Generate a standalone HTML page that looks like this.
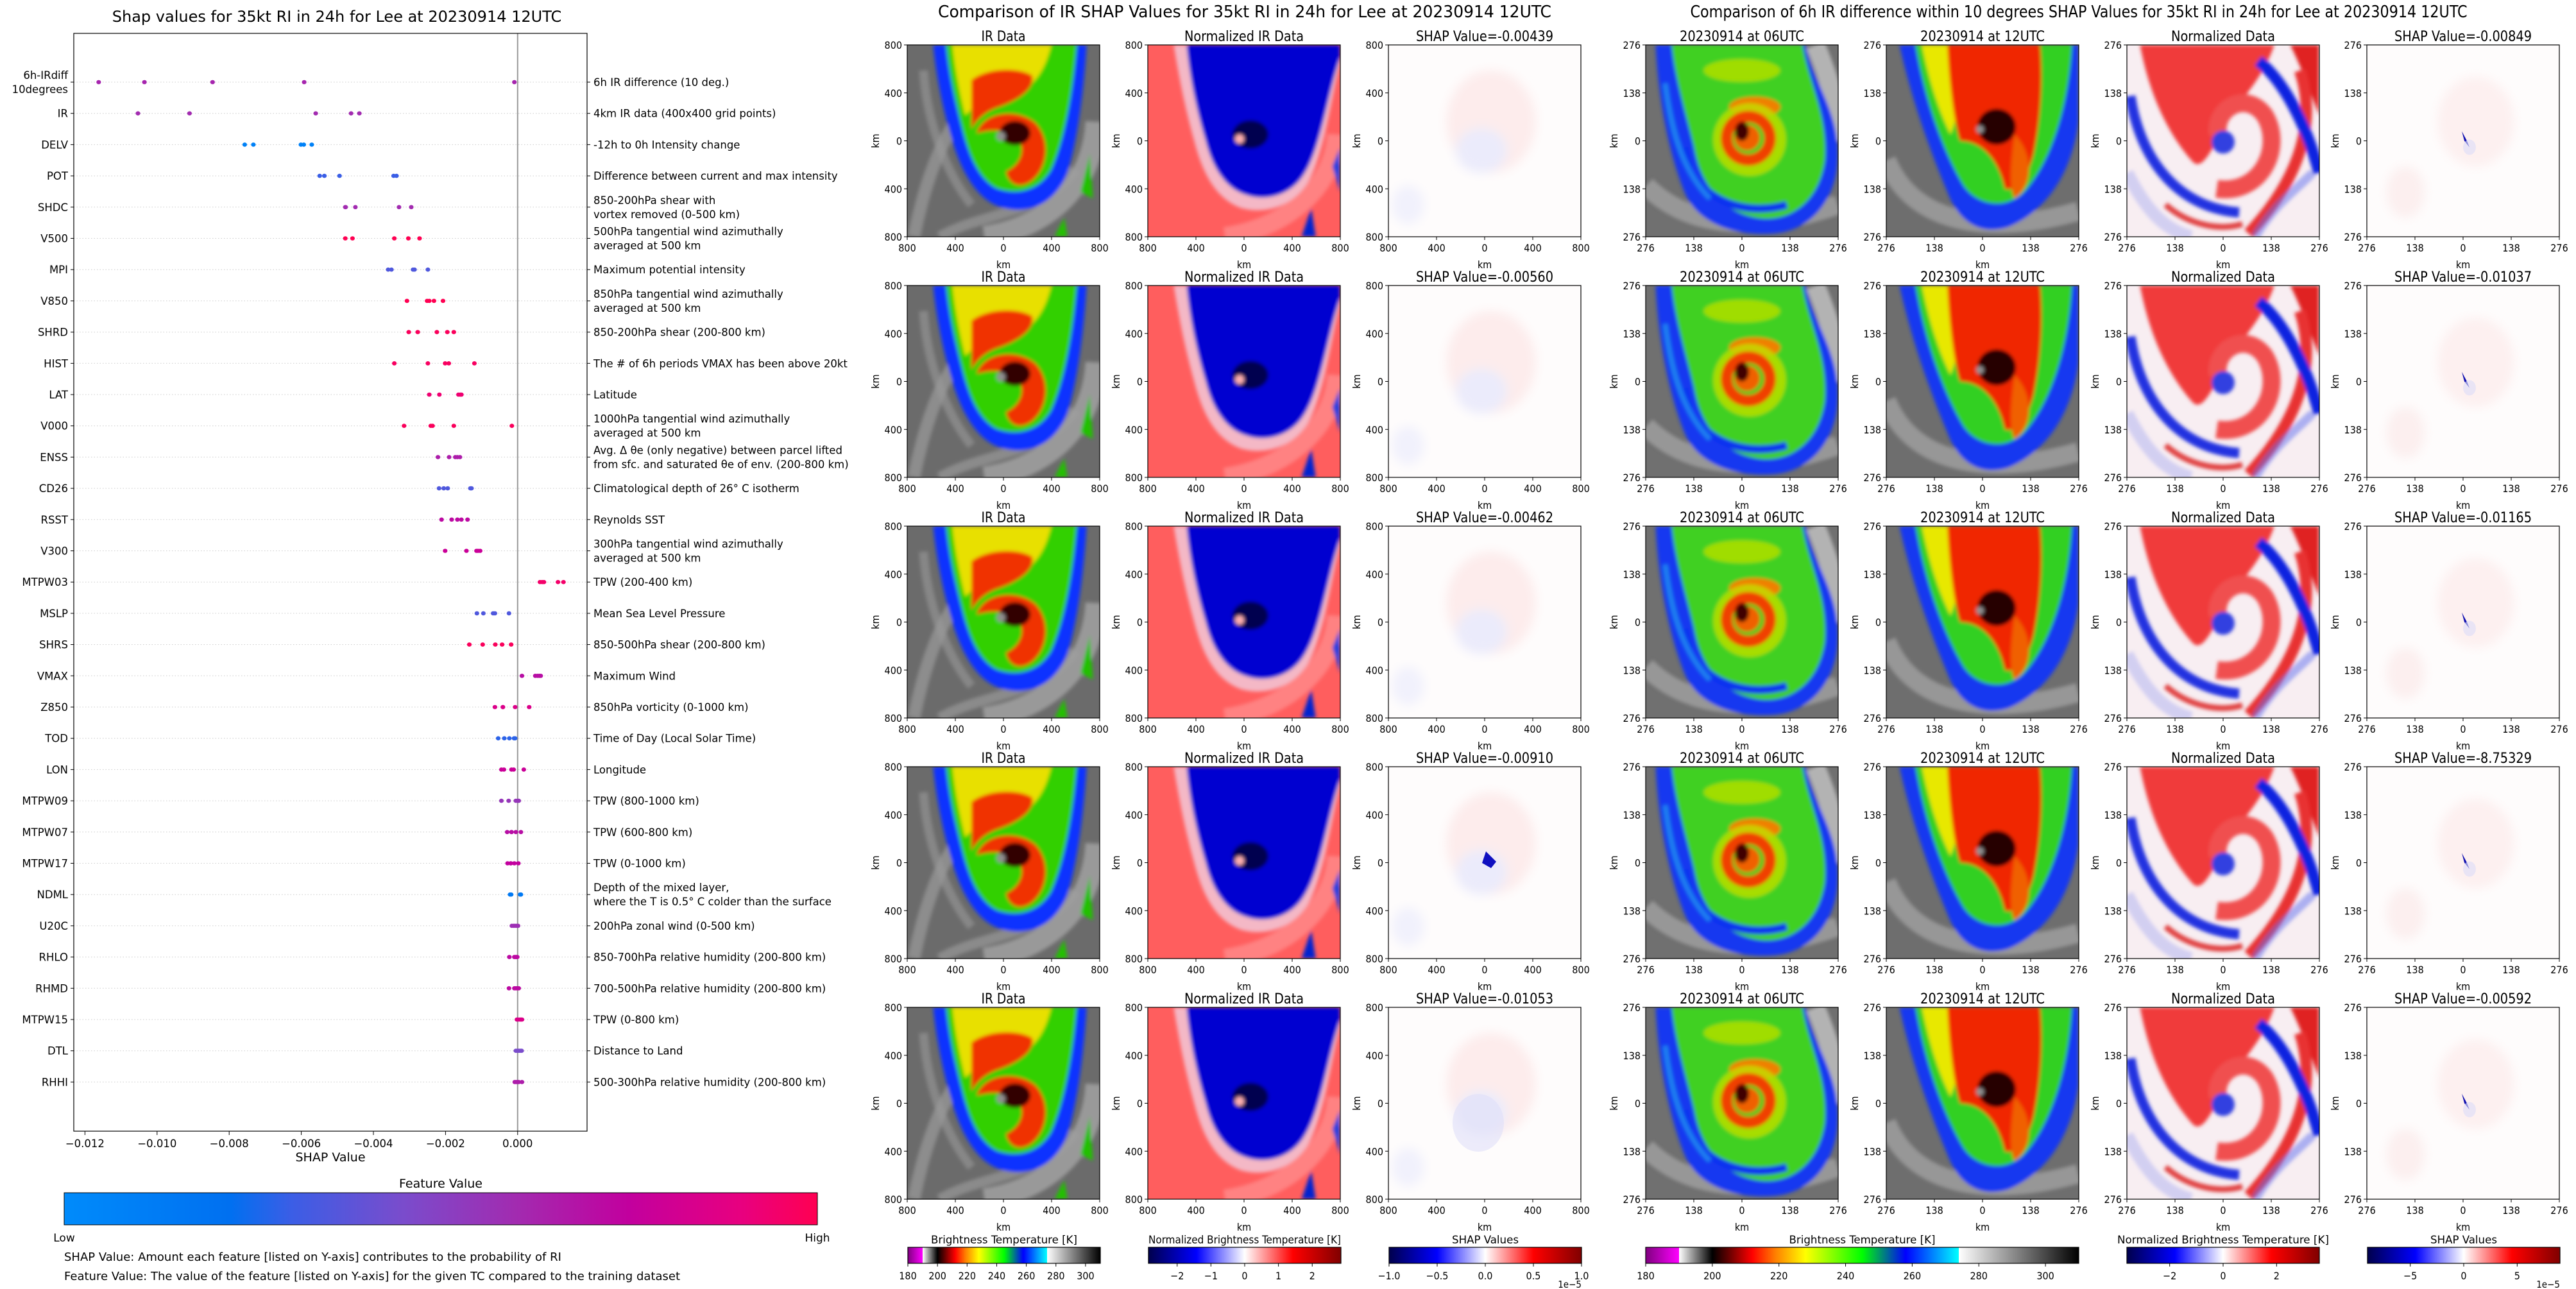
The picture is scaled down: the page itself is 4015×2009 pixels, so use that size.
<!DOCTYPE html>
<html><head><meta charset="utf-8"><title>SHAP RI Lee 20230914 12UTC</title>
<style>
html,body{margin:0;padding:0;background:#fff;}
svg{display:block;}
.dj{font-family:"DejaVu Sans","Liberation Sans",sans-serif;}
.nw{font-family:"Liberation Sans Narrow","DejaVu Sans Condensed","Liberation Sans",sans-serif;}
</style></head>
<body>
<svg id="root" xmlns="http://www.w3.org/2000/svg" width="4015" height="2009" viewBox="0 0 4015 2009">
<defs>
  <filter id="soft" x="-5%" y="-5%" width="110%" height="110%"><feGaussianBlur stdDeviation="3"/></filter>
  <filter id="soft2" x="-10%" y="-10%" width="120%" height="120%"><feGaussianBlur stdDeviation="8"/></filter>
  <linearGradient id="featCmap" x1="0" x2="1" y1="0" y2="0">
    <stop offset="0" stop-color="#008bfb"/><stop offset="0.22" stop-color="#0070f0"/>
    <stop offset="0.3" stop-color="#3a5ee6"/><stop offset="0.45" stop-color="#7a4ccc"/>
    <stop offset="0.6" stop-color="#a22bb0"/><stop offset="0.75" stop-color="#c2009e"/>
    <stop offset="0.9" stop-color="#e8007f"/><stop offset="1" stop-color="#ff0052"/>
  </linearGradient>
  <linearGradient id="btCmap" x1="0" x2="1" y1="0" y2="0">
    <stop offset="0" stop-color="#800080"/><stop offset="0.0769" stop-color="#ff00ff"/>
    <stop offset="0.0769" stop-color="#ffffff"/><stop offset="0.1538" stop-color="#000000"/>
    <stop offset="0.19" stop-color="#600000"/><stop offset="0.246" stop-color="#ff0000"/>
    <stop offset="0.3" stop-color="#ff8000"/><stop offset="0.369" stop-color="#ffff00"/>
    <stop offset="0.5" stop-color="#00ff00"/><stop offset="0.6" stop-color="#0000ff"/>
    <stop offset="0.723" stop-color="#00ffff"/><stop offset="0.723" stop-color="#ffffff"/>
    <stop offset="1" stop-color="#000000"/>
  </linearGradient>
  <linearGradient id="seisCmap" x1="0" x2="1" y1="0" y2="0">
    <stop offset="0" stop-color="#00004c"/><stop offset="0.25" stop-color="#0000ff"/>
    <stop offset="0.5" stop-color="#ffffff"/><stop offset="0.75" stop-color="#ff0000"/>
    <stop offset="1" stop-color="#800000"/>
  </linearGradient>

  <symbol id="irLeft" viewBox="0 0 300 300">
    <rect width="300" height="300" fill="#6b6b6b"/>
    <g filter="url(#soft)">
      <path d="M10,300 C30,200 60,130 100,90" stroke="#a8a8a8" stroke-width="20" fill="none" opacity=".55"/>
      <path d="M120,300 C220,285 290,220 295,120" stroke="#c0c0c0" stroke-width="34" fill="none" opacity=".55"/>
      <path d="M50,300 C120,260 200,270 262,195" stroke="#a0a0a0" stroke-width="16" fill="none" opacity=".6"/>
      <path d="M25,40 C30,120 60,200 100,250" stroke="#9a9a9a" stroke-width="14" fill="none" opacity=".6"/>
      <path d="M40,0 L280,0 C275,80 265,150 250,200 C230,250 190,265 150,255 C110,245 85,200 70,150 C55,100 45,50 40,0Z" fill="#1030ff"/>
      <path d="M60,0 L265,0 C258,80 245,150 225,195 C205,230 170,235 140,225 C110,210 95,170 85,130 C72,80 64,40 60,0Z" fill="#30d000"/>
      <path d="M70,0 L225,0 C215,40 200,60 180,70 C150,80 110,90 90,110 C80,70 73,30 70,0Z" fill="#e8e000"/>
      <path d="M100,55 C125,35 175,35 195,48 C200,70 170,88 140,98 C118,106 104,122 100,132 Z" fill="#f03000"/>
      <path d="M108,138 C118,104 172,98 200,122 C226,150 218,196 192,214 C175,225 158,218 154,198 C176,188 184,166 175,150 C161,131 132,131 108,138Z" fill="#f03000"/>
      <ellipse cx="168" cy="138" rx="24" ry="19" fill="#300000"/>
      <circle cx="146" cy="143" r="7" fill="#909090"/>
      <path d="M270,230 L285,170 L290,240 Z" fill="#20c000"/>
      <path d="M230,300 L245,270 L250,300 Z" fill="#20c000"/>
    </g>
  </symbol>
  <symbol id="normLeft" viewBox="0 0 300 300">
    <rect width="300" height="300" fill="#ff5e5e"/>
    <g filter="url(#soft)">
      <path d="M120,300 C220,285 290,220 295,140" stroke="#ff9a9a" stroke-width="30" fill="none" opacity=".6"/>
      <path d="M40,0 L300,0 L300,30 C285,90 275,170 250,215 C225,255 180,265 145,255 C105,240 85,200 72,150 C58,100 48,50 40,0Z" fill="#f2c8d8" opacity=".85"/>
      <path d="M60,0 L300,0 L300,20 C280,80 270,160 245,200 C225,235 185,245 155,235 C120,225 100,190 90,150 C75,100 65,50 60,0Z" fill="#0000d0"/>
      <ellipse cx="160" cy="140" rx="28" ry="22" fill="#000050"/>
      <circle cx="143" cy="147" r="7" fill="#ffb0b0"/>
      <path d="M240,300 L255,255 L262,300 Z" fill="#0020d0"/>
      <path d="M288,190 L300,160 L300,230 Z" fill="#2040e0"/>
    </g>
  </symbol>
  <symbol id="shapLeft" viewBox="0 0 300 300">
    <rect width="300" height="300" fill="#fefcfc"/>
    <g filter="url(#soft2)">
      <ellipse cx="160" cy="120" rx="70" ry="80" fill="#fdecec"/>
      <ellipse cx="145" cy="165" rx="40" ry="35" fill="#ebebfb"/>
      <ellipse cx="30" cy="250" rx="25" ry="30" fill="#f1f1fc"/>
    </g>
  </symbol>
  <symbol id="ir06" viewBox="0 0 300 300">
    <rect width="300" height="300" fill="#707070"/>
    <g filter="url(#soft)">
      <path d="M0,220 C60,280 160,300 300,250" stroke="#b8b8b8" stroke-width="30" fill="none" opacity=".55"/>
      <path d="M265,0 C290,60 300,100 300,150" stroke="#d0d0d0" stroke-width="30" fill="none" opacity=".7"/>
      <path d="M15,0 L250,0 C262,60 300,100 300,170 C300,240 260,290 200,295 C140,300 80,280 60,230 C40,180 20,100 15,0Z" fill="#1838f0"/>
      <path d="M40,0 L245,0 C255,60 285,110 280,180 C270,250 220,280 170,270 C120,260 85,220 75,160 C60,100 45,50 40,0Z" fill="#40d020"/>
      <path d="M60,160 C70,240 150,270 220,250" stroke="#1030f0" stroke-width="12" fill="none"/>
      <path d="M30,60 C40,140 60,200 100,240" stroke="#20a0f0" stroke-width="8" fill="none" opacity=".7"/>
      <ellipse cx="150" cy="40" rx="60" ry="18" fill="#b8e000" opacity=".8"/>
      <ellipse cx="170" cy="97" rx="40" ry="16" fill="#f08000"/>
      <circle cx="162" cy="148" r="44" fill="none" stroke="#c0e000" stroke-width="26" opacity=".8"/>
      <circle cx="160" cy="146" r="34" fill="none" stroke="#f04000" stroke-width="18"/>
      <circle cx="158" cy="145" r="20" fill="#f06000"/>
      <ellipse cx="150" cy="135" rx="11" ry="15" fill="#400000"/>
    </g>
  </symbol>
  <symbol id="ir12" viewBox="0 0 300 300">
    <rect width="300" height="300" fill="#6e6e6e"/>
    <g filter="url(#soft)">
      <path d="M0,180 C40,280 160,300 300,260" stroke="#b8b8b8" stroke-width="30" fill="none" opacity=".55"/>
      <path d="M20,0 L300,0 L300,120 C290,200 250,260 190,285 C140,300 110,270 95,230 C70,170 40,90 20,0Z" fill="#1838f0"/>
      <path d="M45,0 L290,0 C285,90 260,180 215,230 C185,260 140,250 120,220 C90,170 60,90 45,0Z" fill="#30d020"/>
      <path d="M55,0 L140,0 C130,60 110,110 100,140 C80,100 65,50 55,0Z" fill="#e8e800"/>
      <path d="M95,0 L240,0 C245,60 240,120 230,170 C220,210 200,230 185,225 C175,180 150,150 115,150 C105,120 98,60 95,0Z" fill="#f02800"/>
      <path d="M200,140 C230,170 230,220 200,240 C190,220 195,180 200,140Z" fill="#f06000"/>
      <ellipse cx="172" cy="128" rx="30" ry="28" fill="#280000"/>
      <circle cx="146" cy="132" r="6" fill="#909090"/>
    </g>
  </symbol>
  <symbol id="normRight" viewBox="0 0 300 300">
    <rect width="300" height="300" fill="#f8eef2"/>
    <g filter="url(#soft)">
      <path d="M20,0 L230,0 C210,60 170,90 150,130 C130,170 115,200 100,180 C65,140 35,80 20,0Z" fill="#f03a3a"/>
      <path d="M255,0 L300,0 L300,110 C285,70 270,30 255,0Z" fill="#e02020"/>
      <path d="M140,225 C210,235 245,160 215,110 C185,70 135,100 142,140" stroke="#f05050" stroke-width="28" fill="none"/>
      <path d="M270,40 C300,130 260,220 190,295" stroke="#e83030" stroke-width="18" fill="none"/>
      <path d="M5,80 C20,180 80,255 175,262" stroke="#2030e0" stroke-width="16" fill="none"/>
      <path d="M205,25 C250,60 285,140 300,200" stroke="#1020e0" stroke-width="18" fill="none"/>
      <circle cx="150" cy="152" r="18" fill="#3040e0"/>
      <path d="M60,250 C100,285 150,290 180,280" stroke="#e04040" stroke-width="9" fill="none"/>
      <path d="M200,300 C230,250 260,230 290,200" stroke="#6070f0" stroke-width="14" fill="none" opacity=".5"/>
      <path d="M0,200 C30,260 60,290 100,300" stroke="#9aa0f0" stroke-width="20" fill="none" opacity=".4"/>
    </g>
  </symbol>
  <symbol id="shapRight" viewBox="0 0 300 300">
    <rect width="300" height="300" fill="#fefcfc"/>
    <g filter="url(#soft2)">
      <ellipse cx="170" cy="120" rx="60" ry="70" fill="#fdf0f0"/>
      <ellipse cx="60" cy="230" rx="30" ry="40" fill="#fcefef"/>
    </g>
    <path d="M148,135 L156,150 L160,160 L152,150Z" fill="#1010b0"/>
    <ellipse cx="160" cy="160" rx="10" ry="12" fill="#dcdcf8" opacity=".6"/>
  </symbol>
</defs>
<g id="left"></g>
<g id="right"></g>
</svg>
<script>
// ---------- Left chart data ----------
const features = ["6h-IRdiff\n10degrees","IR","DELV","POT","SHDC","V500","MPI","V850","SHRD","HIST","LAT","V000","ENSS","CD26","RSST","V300","MTPW03","MSLP","SHRS","VMAX","Z850","TOD","LON","MTPW09","MTPW07","MTPW17","NDML","U20C","RHLO","RHMD","MTPW15","DTL","RHHI"];
const descriptions = ["6h IR difference (10 deg.)","4km IR data (400x400 grid points)","-12h to 0h Intensity change","Difference between current and max intensity","850-200hPa shear with\nvortex removed (0-500 km)","500hPa tangential wind azimuthally\naveraged at 500 km","Maximum potential intensity","850hPa tangential wind azimuthally\naveraged at 500 km","850-200hPa shear (200-800 km)","The # of 6h periods VMAX has been above 20kt","Latitude","1000hPa tangential wind azimuthally\naveraged at 500 km","Avg. Δ θe (only negative) between parcel lifted\nfrom sfc. and saturated θe of env. (200-800 km)","Climatological depth of 26° C isotherm","Reynolds SST","300hPa tangential wind azimuthally\naveraged at 500 km","TPW (200-400 km)","Mean Sea Level Pressure","850-500hPa shear (200-800 km)","Maximum Wind","850hPa vorticity (0-1000 km)","Time of Day (Local Solar Time)","Longitude","TPW (800-1000 km)","TPW (600-800 km)","TPW (0-1000 km)","Depth of the mixed layer,\nwhere the T is 0.5° C colder than the surface","200hPa zonal wind (0-500 km)","850-700hPa relative humidity (200-800 km)","700-500hPa relative humidity (200-800 km)","TPW (0-800 km)","Distance to Land","500-300hPa relative humidity (200-800 km)"];
const shapValues = [
 [-0.01162,-0.01035,-0.00846,-0.00592,-0.00009],
 [-0.01053,-0.00910,-0.00560,-0.00462,-0.00439],
 [-0.00757,-0.00733,-0.00601,-0.00593,-0.00571],
 [-0.00549,-0.00536,-0.00494,-0.00344,-0.00336],
 [-0.00478,-0.00477,-0.00450,-0.00329,-0.00295],
 [-0.00478,-0.00458,-0.00342,-0.00303,-0.00272],
 [-0.00359,-0.00350,-0.00290,-0.00286,-0.00249],
 [-0.00307,-0.00251,-0.00245,-0.00232,-0.00207],
 [-0.00302,-0.00277,-0.00224,-0.00195,-0.00177],
 [-0.00342,-0.00249,-0.00201,-0.00191,-0.00120],
 [-0.00245,-0.00217,-0.00164,-0.00159,-0.00156],
 [-0.00315,-0.00241,-0.00236,-0.00177,-0.00016],
 [-0.00221,-0.00190,-0.00173,-0.00167,-0.00160],
 [-0.00218,-0.00205,-0.00194,-0.00131,-0.00128],
 [-0.00211,-0.00183,-0.00167,-0.00156,-0.00139],
 [-0.00201,-0.00142,-0.00114,-0.00110,-0.00104],
 [0.00062,0.00068,0.00073,0.00112,0.00127],
 [-0.00113,-0.00095,-0.00068,-0.00063,-0.00024],
 [-0.00134,-0.00097,-0.00062,-0.00043,-0.00018],
 [0.00012,0.00049,0.00055,0.00060,0.00064],
 [-0.00063,-0.00041,-0.00007,0.00032,-0.00041],
 [-0.00054,-0.00037,-0.00023,-0.00010,-0.00007],
 [-0.00045,-0.00038,-0.00017,-0.00011,0.00017],
 [-0.00045,-0.00025,-0.00005,0.00000,0.00003],
 [-0.00029,-0.00017,-0.00005,0.00009,-0.00017],
 [-0.00028,-0.00019,-0.00009,0.00002,-0.00019],
 [-0.00021,-0.00018,0.00007,0.00009,0.00008],
 [-0.00016,-0.00011,-0.00007,-0.00002,0.00001],
 [-0.00023,-0.00009,-0.00006,-0.00001,-0.00003],
 [-0.00024,-0.00009,-0.00005,-0.00001,0.00003],
 [-0.00002,0.00001,0.00006,0.00009,0.00012],
 [-0.00005,-0.00001,0.00003,0.00007,0.00011],
 [-0.00008,-0.00004,0.00000,0.00003,0.00012]
];
const featureValues = [0.62,0.6,0.08,0.3,0.6,1.0,0.35,1.0,0.98,0.97,0.93,0.98,0.65,0.35,0.72,0.78,0.95,0.35,0.98,0.7,0.85,0.28,0.78,0.55,0.7,0.75,0.15,0.58,0.72,0.72,0.85,0.45,0.65];
const xTicks = [-0.012,-0.010,-0.008,-0.006,-0.004,-0.002,0.000];

// ---------- Right panels data ----------
const leftShapTitles = ["SHAP Value=-0.00439","SHAP Value=-0.00560","SHAP Value=-0.00462","SHAP Value=-0.00910","SHAP Value=-0.01053"];
const rightShapTitles = ["SHAP Value=-0.00849","SHAP Value=-0.01037","SHAP Value=-0.01165","SHAP Value=-8.75329","SHAP Value=-0.00592"];
const leftTicks = ["800","400","0","400","800"];
const rightTicks = ["276","138","0","138","276"];
const btTicks = [180,200,220,240,260,280,300];
const normLeftTicks = [-2,-1,0,1,2];
const shapLeftTicks = [-1.0,-0.5,0.0,0.5,1.0];
const normRightTicks = [-2,0,2];
const shapRightTicks = [-5,0,5];

const NS = "http://www.w3.org/2000/svg";
function el(tag, attrs, parent){
  const e = document.createElementNS(NS, tag);
  for (const k in attrs) e.setAttribute(k, attrs[k]);
  parent.appendChild(e);
  return e;
}
function txt(s, attrs, parent){
  const t = el("text", attrs, parent);
  t.textContent = s;
  return t;
}
const minus = v => String(v).replace("-", "\u2212");

// ---------- Left chart ----------
const L = document.getElementById("left");
const PX0 = 115, PX1 = 915, PY0 = 52, PY1 = 1763;
const ROW0 = 128, ROWH = 48.7;
const xScale = v => 806.8 + v * 56200;
const yScale = i => ROW0 + i * ROWH;
const cmapStops = [[0,[0,139,251]],[0.22,[0,112,240]],[0.3,[58,94,230]],[0.45,[122,76,204]],[0.6,[162,43,176]],[0.75,[194,0,158]],[0.9,[232,0,127]],[1,[255,0,82]]];
function cmap(t){
  for (let i=1;i<cmapStops.length;i++){
    if (t <= cmapStops[i][0]){
      const a = cmapStops[i-1], b = cmapStops[i];
      const f = (t-a[0])/(b[0]-a[0]);
      const c = a[1].map((v,j)=>Math.round(v+(b[1][j]-v)*f));
      return "rgb("+c.join(",")+")";
    }
  }
  return "rgb(255,0,82)";
}

let t = txt("Shap values for 35kt RI in 24h for Lee at 20230914 12UTC", {x:525,y:34,"text-anchor":"middle","font-size":"24",class:"dj",fill:"#000"}, L);



features.forEach((f,i)=>{
  const y = yScale(i);
  const g = el("line",{x1:PX0,x2:PX1,y1:y,y2:y,stroke:"#cccccc","stroke-width":"1","stroke-dasharray":"1.5,3"},L);
  
  
  const tk = el("line",{x1:PX0-5,x2:PX0,y1:y,y2:y,stroke:"#000","stroke-width":"1"},L);
  
  
  const tk2 = el("line",{x1:PX1,x2:PX1+5,y1:y,y2:y,stroke:"#000","stroke-width":"1"},L);
  
  
  const lines = f.split("\n");
  lines.forEach((s,k)=>{
    const yy = lines.length===1 ? y+6 : y - 5 + k*22;
    const lt = txt(s,{x:106,y:yy,"text-anchor":"end","font-size":"16.5",class:"dj",fill:"#000"},L);
    
    
  });
  const dl = descriptions[i].split("\n");
  dl.forEach((s,k)=>{
    const yy = dl.length===1 ? y+6 : y - 5 + k*22;
    const dt = txt(s,{x:925,y:yy,"font-size":"16.5",class:"dj",fill:"#000"},L);
    
    
  });
});
const zl = el("line",{x1:xScale(0),x2:xScale(0),y1:PY0,y2:PY1,stroke:"#999999","stroke-width":"2"},L);


shapValues.forEach((vals,i)=>{
  vals.forEach(v=>{
    const d = el("ellipse",{cx:xScale(v).toFixed(1),cy:yScale(i).toFixed(1),rx:"3.6",ry:"3.3",fill:cmap(featureValues[i])},L);
    
    
  });
});
const frame = el("rect",{x:PX0,y:PY0,width:PX1-PX0,height:PY1-PY0,fill:"none",stroke:"#000","stroke-width":"1.2"},L);


xTicks.forEach(v=>{
  const x = xScale(v);
  const tm = el("line",{x1:x,x2:x,y1:PY1,y2:PY1+6,stroke:"#000","stroke-width":"1"},L);
  
  
  const tl = txt(minus(v.toFixed(3)),{x:x,y:PY1+25,"text-anchor":"middle","font-size":"16.5",class:"dj",fill:"#000"},L);
  
  
});
t = txt("SHAP Value",{x:515,y:1810,"text-anchor":"middle","font-size":"19",class:"dj",fill:"#000"},L);


t = txt("Feature Value",{x:687,y:1851,"text-anchor":"middle","font-size":"19",class:"dj",fill:"#000"},L);


t = el("rect",{x:100,y:1859,width:1174,height:50,fill:"url(#featCmap)",stroke:"#000","stroke-width":"1"},L);


t = txt("Low",{x:100,y:1935,"text-anchor":"middle","font-size":"17",class:"dj",fill:"#000"},L);


t = txt("High",{x:1274,y:1935,"text-anchor":"middle","font-size":"17",class:"dj",fill:"#000"},L);


t = txt("SHAP Value: Amount each feature [listed on Y-axis] contributes to the probability of RI",{x:100,y:1965,"font-size":"18",class:"dj",fill:"#000"},L);


t = txt("Feature Value: The value of the feature [listed on Y-axis] for the given TC compared to the training dataset",{x:100,y:1995,"font-size":"18",class:"dj",fill:"#000"},L);



// ---------- Right image panels ----------
const R = document.getElementById("right");
const rowTops = [70,445,820,1195,1570];
const PH = 299, PW = 300;
const leftCols = [1414,1789,2164];
const rightCols = [2565,2940,3315,3689];

t = txt("Comparison of IR SHAP Values for 35kt RI in 24h for Lee at 20230914 12UTC",{x:1940,y:27,"text-anchor":"middle","font-size":"26",class:"nw",fill:"#000",textLength:"956",lengthAdjust:"spacingAndGlyphs"},R);


t = txt("Comparison of 6h IR difference within 10 degrees SHAP Values for 35kt RI in 24h for Lee at 20230914 12UTC",{x:3240,y:27,"text-anchor":"middle","font-size":"26",class:"nw",fill:"#000",textLength:"1211",lengthAdjust:"spacingAndGlyphs"},R);



function panel(x, y, sym, title, titleLen, ticks, extra){
  const u = el("use",{href:"#"+sym,x:x,y:y,width:PW,height:PH,preserveAspectRatio:"none"},R);
  
  
  if (extra) extra(x,y);
  const b = el("rect",{x:x,y:y,width:PW,height:PH,fill:"none",stroke:"#000","stroke-width":"1.2"},R);
  
  
  const tt = txt(title,{x:x+PW/2,y:y-6,"text-anchor":"middle","font-size":"22",class:"nw",fill:"#000",textLength:titleLen,lengthAdjust:"spacingAndGlyphs"},R);
  
  
  ticks.forEach((s,k)=>{
    const yy = y + k*PH/4;
    const a = el("line",{x1:x-5,x2:x,y1:yy,y2:yy,stroke:"#000","stroke-width":"1"},R);
    
    
    const al = txt(s,{x:x-8,y:yy+6,"text-anchor":"end","font-size":"16",class:"nw",fill:"#000"},R);
    
    
    const xx = x + k*PW/4;
    const c = el("line",{x1:xx,x2:xx,y1:y+PH,y2:y+PH+5,stroke:"#000","stroke-width":"1"},R);
    
    
    const cl = txt(s,{x:xx,y:y+PH+23,"text-anchor":"middle","font-size":"16",class:"nw",fill:"#000"},R);
    
    
  });
  const xl = txt("km",{x:x+PW/2,y:y+PH+49,"text-anchor":"middle","font-size":"16",class:"nw",fill:"#000"},R);
  
  
  const ylx = x - 44, yly = y + PH/2;
  const yl = txt("km",{x:ylx,y:yly,"text-anchor":"middle","font-size":"16",class:"nw",fill:"#000",transform:"rotate(-90 "+ylx+" "+yly+")"},R);
  
  
}
const shapExtraLeft = [null,null,null,
  (x,y)=>{ const s = el("path",{d:"M"+(x+152)+","+(y+132)+" l-6,18 l14,8 l8,-10 z",fill:"#1010c0"},R);
    
     },
  (x,y)=>{ const s = el("ellipse",{cx:x+140,cy:y+180,rx:40,ry:45,fill:"#e0e0f8",opacity:"0.6"},R);
    
     }
];
rowTops.forEach((y,r)=>{
  panel(leftCols[0], y, "irLeft", "IR Data", "69", leftTicks);
  panel(leftCols[1], y, "normLeft", "Normalized IR Data", "186", leftTicks);
  panel(leftCols[2], y, "shapLeft", leftShapTitles[r], "214", leftTicks, shapExtraLeft[r]);
  panel(rightCols[0], y, "ir06", "20230914 at 06UTC", "194", rightTicks);
  panel(rightCols[1], y, "ir12", "20230914 at 12UTC", "194", rightTicks);
  panel(rightCols[2], y, "normRight", "Normalized Data", "162", rightTicks);
  panel(rightCols[3], y, "shapRight", rightShapTitles[r], "214", rightTicks);
});

function colorbar(x, w, fill, title, titleLen, vmin, vmax, ticks, fmt, note){
  const y = 1944, h = 25;
  const r = el("rect",{x:x,y:y,width:w,height:h,fill:fill,stroke:"#000","stroke-width":"1.2"},R);
  
  
  const tt = txt(title,{x:x+w/2,y:1938,"text-anchor":"middle","font-size":"17",class:"nw",fill:"#000",textLength:titleLen,lengthAdjust:"spacingAndGlyphs"},R);
  
  
  ticks.forEach(v=>{
    const xx = x + (v-vmin)/(vmax-vmin)*w;
    const m = el("line",{x1:xx,x2:xx,y1:y+h,y2:y+h+5,stroke:"#000","stroke-width":"1"},R);
    
    
    const l = txt(minus(fmt(v)),{x:xx,y:1994,"text-anchor":"middle","font-size":"16",class:"nw",fill:"#000"},R);
    
    
  });
  if (note){
    const n = txt(note,{x:x+w,y:2007,"text-anchor":"end","font-size":"15",class:"nw",fill:"#000"},R);
    
    
  }
}
colorbar(1415, 300, "url(#btCmap)", "Brightness Temperature [K]", "228", 180, 310, btTicks, v=>String(v));
colorbar(1790, 300, "url(#seisCmap)", "Normalized Brightness Temperature [K]", "300", -2.85, 2.85, normLeftTicks, v=>String(v));
colorbar(2165, 300, "url(#seisCmap)", "SHAP Values", "104", -1, 1, shapLeftTicks, v=>v.toFixed(1), "1e\u22125");
colorbar(2565, 675, "url(#btCmap)", "Brightness Temperature [K]", "228", 180, 310, btTicks, v=>String(v));
colorbar(3315, 300, "url(#seisCmap)", "Normalized Brightness Temperature [K]", "330", -3.6, 3.6, normRightTicks, v=>String(v));
colorbar(3690, 300, "url(#seisCmap)", "SHAP Values", "104", -9, 9, shapRightTicks, v=>String(v), "1e\u22125");
</script>
</body></html>
